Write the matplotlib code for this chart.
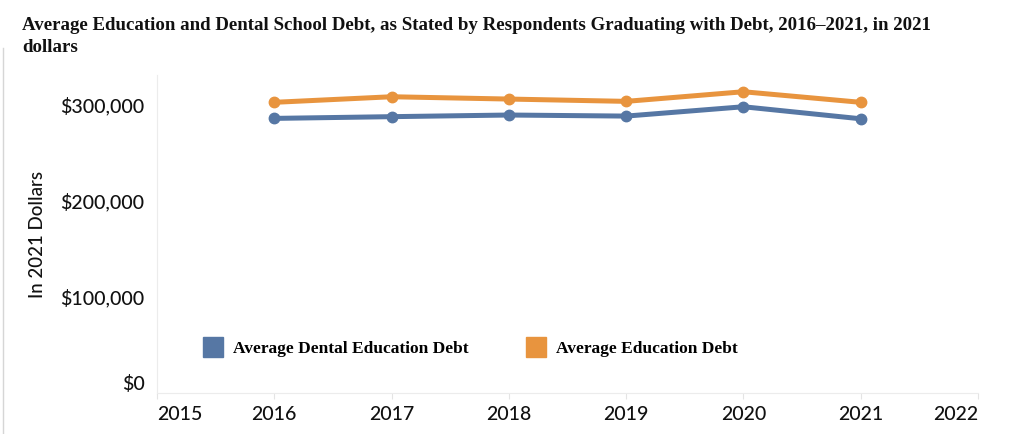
import matplotlib
matplotlib.use("Agg")
import matplotlib.pyplot as plt
from matplotlib.lines import Line2D
from matplotlib.ticker import FuncFormatter

years = [2016, 2017, 2018, 2019, 2020, 2021]
dental_debt = [285400, 287200, 288900, 287800, 297500, 285000]
education_debt = [302100, 307900, 305500, 303100, 313100, 302100]
x_ticks = [2015, 2016, 2017, 2018, 2019, 2020, 2021, 2022]
y_ticks = [0, 100000, 200000, 300000]
series_names = ["Average Dental Education Debt", "Average Education Debt"]
title = ("Average Education and Dental School Debt, as Stated by Respondents "
         "Graduating with Debt, 2016\u20132021, in 2021\ndollars")
y_label = "In 2021 Dollars"

BLUE = "#5677a4"
ORANGE = "#e8943e"
SANS = ["Lato", "DejaVu Sans"]
SERIF = ["Liberation Serif", "DejaVu Serif"]

fig = plt.figure(figsize=(10.24, 4.34), dpi=100)
W, H = 1024, 434
left, right, top, bottom = 157, 978, 75, 393
ax = fig.add_axes([left / W, 1 - bottom / H, (right - left) / W, (bottom - top) / H])

ax.plot(years, dental_debt, color=BLUE, lw=3.6, marker="o", ms=7.5,
        solid_capstyle="round", zorder=3)
ax.plot(years, education_debt, color=ORANGE, lw=3.6, marker="o", ms=7.5,
        solid_capstyle="round", zorder=3)

ax.set_xlim(2015, 2022)
ax.set_ylim(0, 330500)
ax.set_xticks(x_ticks)
ax.set_yticks(y_ticks)
ax.yaxis.set_major_formatter(FuncFormatter(lambda v, p: f"${int(v):,}"))
ax.xaxis.set_major_formatter(FuncFormatter(lambda v, p: f"{int(v)}"))

for s in ["top", "right"]:
    ax.spines[s].set_visible(False)
for s in ["left", "bottom"]:
    ax.spines[s].set_color("#ececec")
    ax.spines[s].set_linewidth(0.8)

ax.tick_params(axis="x", length=4, color="#e4e4e4", pad=5, labelsize=14,
               labelcolor="#111111")
ax.tick_params(axis="y", length=0, pad=9, labelsize=14, labelcolor="#111111")
for lab in ax.get_xticklabels() + ax.get_yticklabels():
    lab.set_fontfamily(SANS)
    lab.set_fontweight("medium")

xl = ax.get_xticklabels()
xl[0].set_horizontalalignment("left")
xl[-1].set_horizontalalignment("right")
yl = ax.get_yticklabels()
yl[0].set_verticalalignment("bottom")

ax.set_ylabel(y_label, fontsize=13.5, family=SANS, weight="medium",
              color="#111111", labelpad=10)

handles = [Line2D([], [], ls="none", marker="s", ms=14.5, color=BLUE),
           Line2D([], [], ls="none", marker="s", ms=14.5, color=ORANGE)]
leg = ax.legend(handles, series_names, ncol=2, frameon=False,
                loc="center left", bbox_to_anchor=((204 - left) / (right - left),
                                                   (bottom - 349) / (bottom - top)),
                prop={"family": SERIF, "weight": "bold", "size": 12.5},
                handlelength=1.0, handletextpad=0.65, columnspacing=3.4,
                borderpad=0, borderaxespad=0)

fig.text(22 / W, 1 - 17 / H, title, ha="left", va="top", family=SERIF,
         weight="bold", fontsize=13.6, color="#111111", linespacing=1.35)

# page border line at left edge
fig.add_artist(Line2D([2.5 / W, 2.5 / W], [0, 1 - 48 / H], color="#d6d6d6",
                      lw=1.0, transform=fig.transFigure))

fig.savefig("out.png", dpi=100)
